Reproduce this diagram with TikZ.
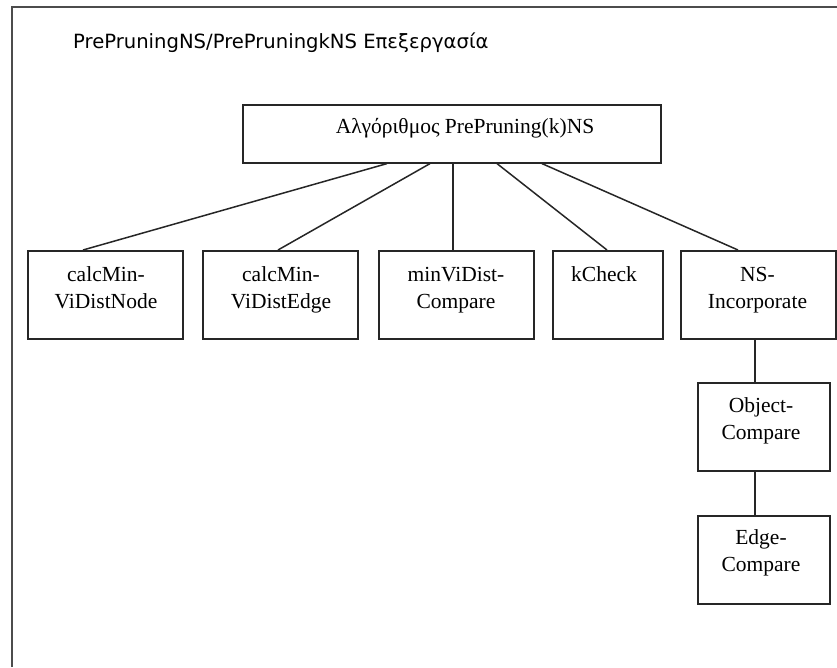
\documentclass[tikz,border=0pt]{standalone}
\usepackage{fontspec}
\setmainfont{Liberation Serif}
\newfontfamily\titlefont{DejaVu Sans}
\begin{document}
\begin{tikzpicture}[x=1pt,y=-1pt,
  box/.style={draw=black!85, line width=1.6pt, rectangle, inner sep=0pt, anchor=north west},
  boxtext/.style={inner sep=0pt, anchor=base, align=center, font=\fontsize{21.5}{27}\selectfont},
  link/.style={draw=black!85, line width=1.5pt}]
  \useasboundingbox (0,0) rectangle (837,667);
  % open frame: left and top sides
  \coordinate (fbl) at (12,667);
  \coordinate (ftl) at (12,7);
  \coordinate (ftr) at (837,7);
  \draw[black!70, line width=1.8pt] (fbl) -- (ftl) -- (ftr);

  % heading
  \node[inner sep=0pt, anchor=base west, font=\titlefont\fontsize{19.6}{24}\selectfont]
    (title) at (73,48) {PrePruningNS/PrePruningkNS Επεξεργασία};

  % main algorithm box
  \node[box, minimum width=418pt, minimum height=58pt] (alg) at (242,104) {};
  \node[boxtext] (algtxt) at (465,133) {Αλγόριθμος PrePruning(k)NS};

  % sub-procedure boxes
  \node[box, minimum width=155pt, minimum height=88pt] (b1) at (27,250) {};
  \node[box, minimum width=155pt, minimum height=88pt] (b2) at (202,250) {};
  \node[box, minimum width=155pt, minimum height=88pt] (b3) at (378,250) {};
  \node[box, minimum width=110pt, minimum height=88pt] (b4) at (552,250) {};
  \node[box, minimum width=155pt, minimum height=88pt] (b5) at (680,250) {};
  \node[box, minimum width=132pt, minimum height=88pt] (b6) at (697,382) {};
  \node[box, minimum width=132pt, minimum height=88pt] (b7) at (697,515) {};

  % labels (base anchor sits on the last line)
  \node[boxtext] (t1) at (106,308.5) {calcMin-\\ViDistNode};
  \node[boxtext] (t2) at (281,308.5) {calcMin-\\ViDistEdge};
  \node[boxtext] (t3) at (456,308.5) {minViDist-\\Compare};
  \node[boxtext] (t4) at (604,281.5) {kCheck};
  \node[boxtext] (t5) at (757.5,308.5) {NS-\\Incorporate};
  \node[boxtext] (t6) at (761,439) {Object-\\Compare};
  \node[boxtext] (t7) at (761,571) {Edge-\\Compare};

  % connectors
  \draw[link] ([xshift=145pt]alg.south west) -- ([xshift=56pt]b1.north west);
  \draw[link] ([xshift=188pt]alg.south west) -- ([xshift=76pt]b2.north west);
  \draw[link] ([xshift=211pt]alg.south west) -- ([xshift=75pt]b3.north west);
  \draw[link] ([xshift=255pt]alg.south west) -- ([xshift=55pt]b4.north west);
  \draw[link] ([xshift=300pt]alg.south west) -- ([xshift=58pt]b5.north west);
  \draw[link] ([xshift=75pt]b5.south west) -- ([xshift=58pt]b6.north west);
  \draw[link] ([xshift=58pt]b6.south west) -- ([xshift=58pt]b7.north west);
\end{tikzpicture}
\end{document}
